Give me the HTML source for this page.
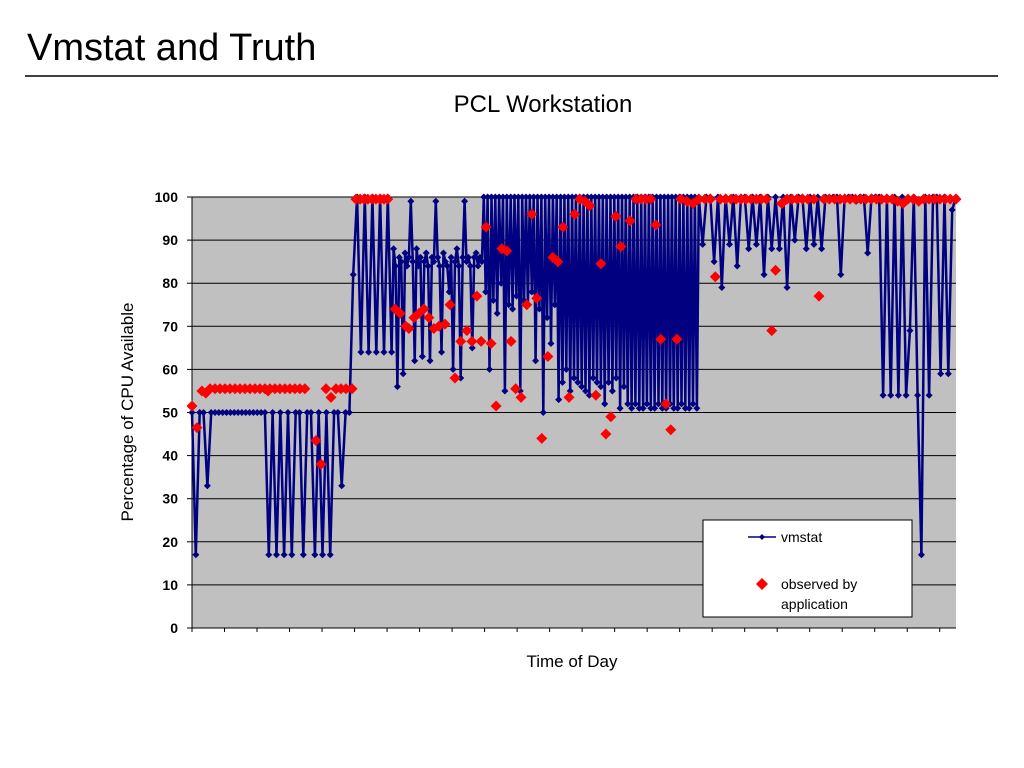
<!DOCTYPE html>
<html><head><meta charset="utf-8"><style>
html,body{margin:0;padding:0;background:#fff;width:1024px;height:768px;overflow:hidden}
svg{display:block;font-family:"Liberation Sans",Arial,sans-serif}
</style></head><body>
<svg id="s" width="1024" height="768" viewBox="0 0 1024 768">
<text x="27" y="60" font-size="38" fill="#000">Vmstat and Truth</text>
<line x1="25" y1="76" x2="998" y2="76" stroke="#000" stroke-width="1.5"/>
<text x="543" y="112" font-size="24" text-anchor="middle">PCL Workstation</text>
<rect x="192" y="197" width="764" height="431" fill="#c0c0c0"/>
<g id="grid"></g>
<g id="marks"></g>
<text transform="translate(133,412) rotate(-90)" font-size="17" text-anchor="middle">Percentage of CPU Available</text>
<text x="572" y="667" font-size="17" text-anchor="middle">Time of Day</text>
<g>
<rect x="703" y="520" width="209" height="97" fill="#fff" stroke="#000" stroke-width="1"/>
<line x1="748" y1="537" x2="776" y2="537" stroke="#000080" stroke-width="1.5"/>
<path d="M762 534 L765 537 L762 540 L759 537Z" fill="#000080"/>
<text x="781" y="542" font-size="14">vmstat</text>
<path d="M762 578 L768 584 L762 590 L756 584Z" fill="#ff0000"/>
<text x="781" y="589" font-size="14">observed by</text>
<text x="781" y="609" font-size="14">application</text>
</g>
</svg>
<script>
const yTicks=[0,10,20,30,40,50,60,70,80,90,100];
// vmstat, morning segment: t = 0..51 step 1
const vmA=[50,17,50,50,33,50,50,50,50,50, 50,50,50,50,50,50,50,50,50,50, 17,50,17,50,17,50,17,50,50,17, 50,50,17,50,17,50,17,50,50,33, 50,50,82,100,64,100,64,100,64,100, 64,100];
// vmstat, late-morning band: t = 52..76 step 0.5
const vmM=[64,88,84,56,86,85,59,87,84,86,99,85,62,88,84,86,63,85,87,84,62,86,85,99,86,84,64,87,85,84,78,86,60,85,88,84,58,86,99,85,86,84,65,86,87,84,86,85,100];
// vmstat, busy segment: t = 76.5..132 step 0.5
const vmB=[78,100,60,100,76,100,73,100,80,100,55,100,75,100,74,100,77,100,55,100,76,100,75,100,78,100,62,100,74,100,50,100,72,100,66,100,75,100,53,100,
57,100,60,100,55,100,58,100,57,100,56,100,55,100,54,100,58,100,57,100,56,100,52,100,57,100,55,100,58,100,51,100,56,100,52,100,
51,100,52,100,51,100,51,100,52,100,51,100,51,100,52,100,51,100,51,100,52,100,51,100,51,100,52,100,51,100,51,100,52,100,51,100];
// vmstat, evening segment: t = 133..199 step 1
const vmC=[89,100,100,85,100,79,100,89,100,84, 100,100,88,100,89,100,82,100,88,100, 88,100,79,100,90,100,100,88,100,89, 100,88,100,100,100,100,82,100,100,100, 99,100,100,87,100,100,100,54,100,54, 100,54,100,54,69,100,54,17,100,54, 100,100,59,100,59,97,100];
const obsT=[0,1.3,2.6,3.6,4.7,6,7.3,8.6,9.9,11.2,12.5,13.8,15.1,16.4,17.7,19,19.8,20.3,21.6,22.9,24.2,25.5,26.8,28.1,29.4,32.3,33.6,34.9,36.2,37.5,38.8,40.1,41.7,42.7,43.8,44.8,45.8,46.9,47.9,49,50,51,52.9,54.2,55.7,56.5,57.8,59.1,60.4,61.7,63,64.3,65.9,67.2,68.5,70,71.6,72.9,74.2,75.3,76.6,77.9,79.2,80.7,82,83.1,84.3,85.7,87.2,88.5,89.8,91.1,92.7,94,95.3,96.6,98.2,99.7,101,102.3,103.6,105.2,106.5,107.8,109.1,110.4,111.7,114.1,115.6,116.9,118.2,119.5,120.8,122.1,123.4,124.7,126.3,127.3,128.9,130.5,132,133.6,135,136.3,137.6,139,140.4,141.7,143,144.3,145.6,147,148.3,149.6,151,152,153.6,155,156.3,157.6,159,160.4,162,163.3,164.6,166,167.4,168.8,170,171.4,172.8,174.2,175.5,176.9,178.3,179.6,181,182.4,183.8,185.2,186.5,187.9,189.3,190.6,192,193.4,194.8,196.2,197.5,199];
const obsV=[51.5,46.5,55,54.5,55.5,55.5,55.5,55.5,55.5,55.5,55.5,55.5,55.5,55.5,55.5,55.5,55,55.5,55.5,55.5,55.5,55.5,55.5,55.5,55.5,43.5,38,55.5,53.5,55.5,55.5,55.5,55.5,99.5,99.5,99.5,99.5,99.5,99.5,99.5,99.5,99.5,74,73,70,69.5,72,73,74,72,69.5,70,70.5,75,58,66.5,69,66.5,77,66.5,93,66,51.5,88,87.5,66.5,55.5,53.5,75,96,76.5,44,63,86,85,93,53.5,96,99.5,99,98,54,84.5,45,49,95.5,88.5,94.5,99.5,99.5,99.5,99.5,93.5,67,52,46,67,99.5,99,98.5,99.5,99.5,99.5,81.5,99.5,99.5,99.5,99.5,99.5,99.5,99.5,99.5,99.5,99.5,69,83,98.5,99.5,99.5,99.5,99.5,99.5,99.5,77,99.5,99.5,99.5,99.5,99.5,99.5,99.5,99.5,99.5,99.5,99.5,99.5,99.5,99.5,99,98.5,99.5,99.5,99,99.5,99.5,99.5,99.5,99.5,99.5,99.5];
const TMAX=199,X0=192,X1=956,Y0=628,Y1=197,NS="http://www.w3.org/2000/svg";
const xs=t=>X0+Math.min(t,TMAX)*(X1-X0)/TMAX;
const ys=v=>Y0-v*(Y0-Y1)/100;
const series=[];
vmA.forEach((v,i)=>series.push([i,v]));
vmM.forEach((v,i)=>series.push([52+i*0.5,v]));
vmB.forEach((v,i)=>series.push([76.5+i*0.5,v]));
vmC.forEach((v,i)=>series.push([133+i,v]));
const grid=document.getElementById('grid'),marks=document.getElementById('marks');
function mk(tag,at,parent){const e=document.createElementNS(NS,tag);for(const k in at)e.setAttribute(k,at[k]);parent.appendChild(e);return e;}
yTicks.forEach(v=>{
  if(v>0){const l=mk('line',{x1:X0,x2:X1,y1:ys(v),y2:ys(v),stroke:'#000','stroke-width':1},grid);
  
  }
  mk('line',{x1:X0-5,x2:X0,y1:ys(v),y2:ys(v),stroke:'#000'},grid);
  const t=mk('text',{x:X0-14,y:ys(v)+5,'font-size':14,'font-weight':'bold','text-anchor':'end'},grid);
  t.textContent=v;
  
  
});
mk('line',{x1:X0,x2:X0,y1:Y1,y2:Y0,stroke:'#000'},grid);
mk('line',{x1:X0,x2:X1,y1:Y0,y2:Y0,stroke:'#000'},grid);
for(let i=0;i<=24;i++){const x=X0+i*(X1-X0)/23.5;if(x<=X1+1)mk('line',{x1:x,x2:x,y1:Y0,y2:Y0+4,stroke:'#000'},grid);}
const pts=series.map(p=>xs(p[0]).toFixed(1)+','+ys(p[1]).toFixed(1)).join(' ');
const pl=mk('polyline',{points:pts,fill:'none',stroke:'#000080','stroke-width':2.5,'stroke-linejoin':'round'},marks);


series.forEach(p=>{const x=xs(p[0]),y=ys(p[1]);
  const d=mk('path',{d:`M${x} ${y-3.5}L${x+3.5} ${y}L${x} ${y+3.5}L${x-3.5} ${y}Z`,fill:'#000080'},marks);
  
  });
const n=Math.min(obsT.length,obsV.length);
for(let i=0;i<n;i++){const x=xs(obsT[i]),y=ys(obsV[i]);
  const d=mk('path',{d:`M${x} ${y-5.5}L${x+5.5} ${y}L${x} ${y+5.5}L${x-5.5} ${y}Z`,fill:'#ff0000'},marks);
  
  }
</script>
</body></html>
